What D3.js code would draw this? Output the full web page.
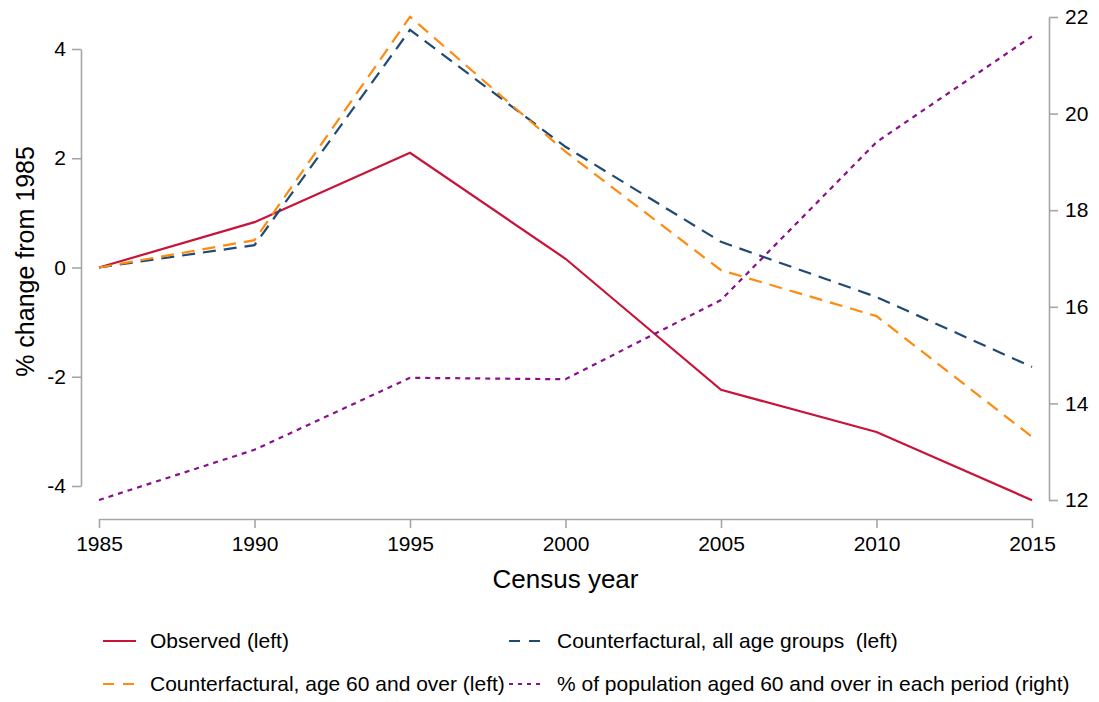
<!DOCTYPE html>
<html>
<head>
<meta charset="utf-8">
<script src="https://cdn.jsdelivr.net/npm/d3@7"></script>
<style>
	body { margin: 0; background: #fff; }
	text { font-family: "Liberation Sans", Arial, Helvetica, sans-serif; fill: #000; }
</style>
</head>
<body>
<div id="chart"></div>
<script>
// values
const years = [1985, 1990, 1995, 2000, 2005, 2010, 2015]
const observed = [0, 0.83, 2.10, 0.16, -2.24, -3.01, -4.26]
const cfAllAges = [0, 0.41, 4.35, 2.21, 0.47, -0.54, -1.82]
const cfAge60 = [0, 0.50, 4.59, 2.12, -0.05, -0.89, -3.10]
const popAged60 = [12.0, 13.04, 14.53, 14.5, 16.14, 19.41, 21.6]

const leftTicks = [-4, -2, 0, 2, 4]
const rightTicks = [12, 14, 16, 18, 20, 22]

const series = [
	{ name: "Observed (left)", values: observed, axis: "left", color: "#c8133b", dash: null },
	{ name: "Counterfactural, all age groups  (left)", values: cfAllAges, axis: "left", color: "#1f4a73", dash: "13,8" },
	{ name: "Counterfactural, age 60 and over (left)", values: cfAge60, axis: "left", color: "#ff8a10", dash: "13,8" },
	{ name: "% of population aged 60 and over in each period (right)", values: popAged60, axis: "right", color: "#8a0f8a", dash: "5,5" }
]

const params = {
	width: 1099, height: 702,
	left: 81, right: 1049,
	xStart: 99, xEnd: 1032,
	axisY: 519,
	axisColor: "#a6a6a6"
}

const svg = d3.select("#chart").append("svg")
	.attr("width", params.width)
	.attr("height", params.height)

const xScale = d3.scaleLinear().domain([1985, 2015]).range([params.xStart, params.xEnd])
const yLeft = d3.scaleLinear().domain([-4, 4]).range([486, 49])
const yRight = d3.scaleLinear().domain([12, 22]).range([500, 17])

// plain hyphen for negatives, like the original
const plain = d => String(d)

// style an axis group the Stata way: grey line and ticks, plain labels
const styleAxis = (g) => {
	g.select(".domain").attr("stroke", params.axisColor).attr("stroke-width", 1.6)
	g.selectAll(".tick line").attr("stroke", params.axisColor).attr("stroke-width", 1.6)
	g.selectAll(".tick text").attr("font-size", 21).attr("fill", "#000")
		.style("font-family", "'Liberation Sans', Arial, Helvetica, sans-serif")
}

svg.append("g")
	.attr("transform", `translate(0, ${params.axisY})`)
	.call(d3.axisBottom(xScale).tickValues(years).tickFormat(plain).tickSize(9).tickSizeOuter(0).tickPadding(8))
	.call(styleAxis)

svg.append("g")
	.attr("transform", `translate(${params.left}, 0)`)
	.call(d3.axisLeft(yLeft).tickValues(leftTicks).tickFormat(plain).tickSize(9).tickSizeOuter(0).tickPadding(6))
	.call(styleAxis)

svg.append("g")
	.attr("transform", `translate(${params.right}, 0)`)
	.call(d3.axisRight(yRight).tickValues(rightTicks).tickFormat(plain).tickSize(9).tickSizeOuter(0).tickPadding(7))
	.call(styleAxis)

// axis titles
svg.append("text")
	.attr("transform", `translate(34, ${yLeft(0) - 6}) rotate(-90)`)
	.attr("text-anchor", "middle")
	.attr("font-size", 25)
	.text("% change from 1985")

svg.append("text")
	.attr("x", (params.xStart + params.xEnd) / 2)
	.attr("y", 588)
	.attr("text-anchor", "middle")
	.attr("font-size", 26)
	.text("Census year")

// lines
const lineFor = (s) => d3.line()
	.x((d, i) => xScale(years[i]))
	.y(d => (s.axis == "left" ? yLeft(d) : yRight(d)))

svg.append("g")
	.selectAll("path")
	.data(series)
	.join("path")
	.attr("d", s => lineFor(s)(s.values))
	.attr("fill", "none")
	.attr("stroke", s => s.color)
	.attr("stroke-width", 2.2)
	.attr("stroke-dasharray", s => s.dash)

// legend: two columns, two rows
const legendPos = [[103, 641], [509, 641], [103, 684], [509, 684]]
const legend = svg.append("g")
	.selectAll("g")
	.data(series)
	.join("g")
	.attr("transform", (s, i) => `translate(${legendPos[i][0]}, ${legendPos[i][1]})`)

legend.append("line")
	.attr("x1", 0).attr("x2", 33)
	.attr("stroke", s => s.color)
	.attr("stroke-width", 2.2)
	.attr("stroke-dasharray", s => s.dash == null ? null : (s.axis == "right" ? "4,5" : "11,9"))

legend.append("text")
	.attr("x", (s, i) => (i % 2 == 0 ? 47 : 48))
	.attr("dy", "0.35em")
	.attr("font-size", 21)
	.style("white-space", "pre")
	.text(s => s.name)
</script>
</body>
</html>
